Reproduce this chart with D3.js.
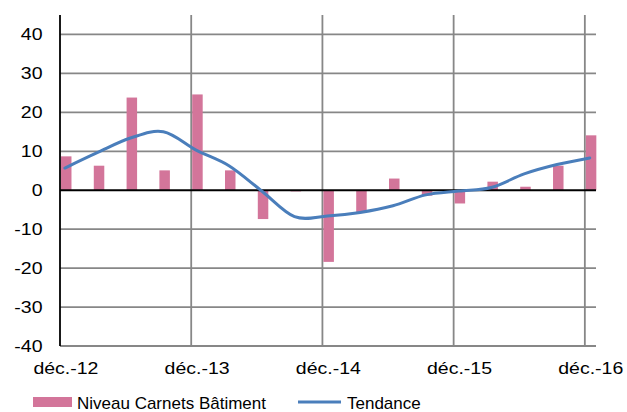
<!DOCTYPE html>
<html>
<head>
<meta charset="utf-8">
<script src="https://cdn.jsdelivr.net/npm/d3@7"></script>
<style>
  html, body { margin: 0; padding: 0; background: #fff; }
  svg { display: block; font-family: "Liberation Sans", Arial, sans-serif; }
</style>
</head>
<body>
<svg id="chart" width="627" height="412"></svg>
<script>
// ---- data ----
const quarters = ["déc.-12","mars-13","juin-13","sept.-13","déc.-13","mars-14","juin-14","sept.-14",
                  "déc.-14","mars-15","juin-15","sept.-15","déc.-15","mars-16","juin-16","sept.-16","déc.-16"];
const niveau   = [8.7, 6.3, 23.8, 5.1, 24.6, 5.1, -7.4, -0.3, -18.4, -5.6, 3.0, -1.4, -3.4, 2.2, 0.9, 6.3, 14.1];
const tendance = [5.7, 9.7, 13.4, 15.0, 10.3, 6.3, -0.2, -6.8, -6.6, -5.7, -4.0, -1.2, -0.2, 0.7, 4.2, 6.6, 8.3];
const xTickLabels = ["déc.-12","déc.-13","déc.-14","déc.-15","déc.-16"];
const yTicks = [-40, -30, -20, -10, 0, 10, 20, 30, 40];
const seriesNames = ["Niveau Carnets Bâtiment", "Tendance"];

// ---- drawing ----
const svg = d3.select("#chart");
const x = d3.scaleLinear().domain([0, 16.34]).range([60, 596]);
const y = d3.scaleLinear().domain([-40, 45]).range([346, 15]);
const gridColor = "#878787";
const barColor = "#d3759a";
const lineColor = "#4a7ebb";

// horizontal gridlines
svg.append("g").selectAll("line").data(yTicks.filter(v => v !== 0)).join("line")
  .attr("x1", x(0)).attr("x2", x.range()[1])
  .attr("y1", d => y(d)).attr("y2", d => y(d))
  .attr("stroke", gridColor).attr("stroke-width", 1.8);

// vertical gridlines at each year
const yearIdx = xTickLabels.map((d, k) => quarters.indexOf(d));
svg.append("g").selectAll("line").data(yearIdx.filter(i => i > 0)).join("line")
  .attr("x1", d => x(d)).attr("x2", d => x(d))
  .attr("y1", y(45)).attr("y2", y(-40))
  .attr("stroke", gridColor).attr("stroke-width", 1.8);

// bars
svg.append("g").selectAll("rect").data(niveau).join("rect")
  .attr("x", (d, i) => x(i + 0.03))
  .attr("width", (d, i) => x(i + 0.35) - x(i + 0.03))
  .attr("y", d => y(Math.max(0, d)))
  .attr("height", d => Math.abs(y(d) - y(0)))
  .attr("fill", barColor);

// zero line and left axis
svg.append("line").attr("x1", x(0)).attr("x2", x.range()[1])
  .attr("y1", y(0)).attr("y2", y(0)).attr("stroke", "#000").attr("stroke-width", 1.8);
svg.append("line").attr("x1", x(0)).attr("x2", x(0))
  .attr("y1", y(45)).attr("y2", y(-40)).attr("stroke", "#000").attr("stroke-width", 1.8);

// trend line
const line = d3.line()
  .x((d, i) => x(i + 0.15))
  .y(d => y(d))
  .curve(d3.curveCardinal.tension(0));
svg.append("path").datum(tendance)
  .attr("d", line).attr("fill", "none")
  .attr("stroke", lineColor).attr("stroke-width", 3).attr("stroke-linecap", "round");

// y labels
svg.append("g").selectAll("text").data(yTicks).join("text")
  .attr("transform", d => `translate(42.5,${y(d)}) scale(1.22,1)`)
  .attr("dy", "0.36em")
  .attr("text-anchor", "end")
  .attr("font-size", 16).attr("fill", "#000")
  .text(d => d);

// x labels
svg.append("g").selectAll("text").data(xTickLabels).join("text")
  .attr("transform", d => `translate(${x(quarters.indexOf(d) + 0.18)},374) scale(1.22,1)`)
  .attr("text-anchor", "middle")
  .attr("font-size", 16).attr("fill", "#000")
  .text(d => d);

// legend
const lg = svg.append("g");
lg.append("rect").attr("x", 33).attr("y", 397).attr("width", 39).attr("height", 10).attr("fill", barColor);
lg.append("text").attr("x", 77).attr("y", 409.3).attr("font-size", 17).attr("fill", "#000").text(seriesNames[0]);
lg.append("line").attr("x1", 298).attr("x2", 341).attr("y1", 402).attr("y2", 402)
  .attr("stroke", lineColor).attr("stroke-width", 3);
lg.append("text").attr("x", 347).attr("y", 409.3).attr("font-size", 17).attr("fill", "#000").text(seriesNames[1]);
</script>
</body>
</html>
